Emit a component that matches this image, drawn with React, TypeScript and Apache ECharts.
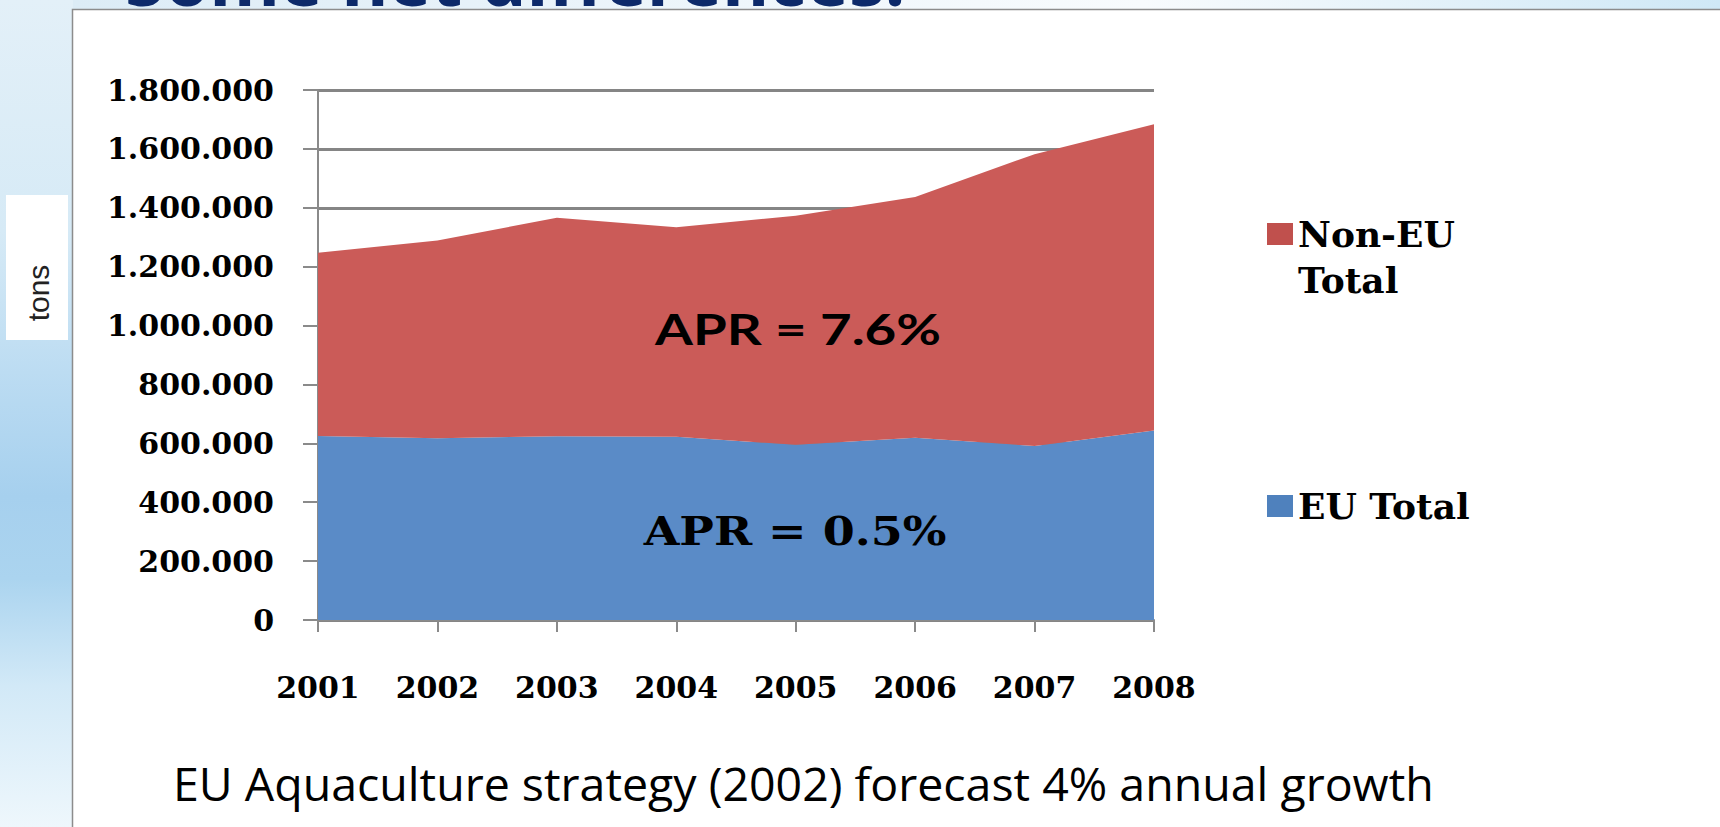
import React, { useEffect, useRef } from 'react';
import * as echarts from 'echarts';

const years = ['2001', '2002', '2003', '2004', '2005', '2006', '2007', '2008'];
const euTotal = [625000, 617000, 624000, 622000, 595000, 619000, 591000, 644000];
const nonEuTotal = [622000, 672000, 742000, 712000, 778000, 818000, 991000, 1040000];
const yMin = 0;
const yMax = 1800000;
const yInterval = 200000;
const seriesNames = ['EU Total', 'Non-EU Total'];
const legendLabels = ['EU Total', '\u00a0\nNon-EU\nTotal'];
const aprLabels = ['APR = 7.6%', 'APR = 0.5%'];
const titleText = 'Some net differences:';
const captionText = 'EU Aquaculture strategy (2002) forecast 4% annual growth';
const yAxisName = 'tons';

const fmt = (v: number) => (v === 0 ? '0' : String(v).replace(/\B(?=(\d{3})+(?!\d))/g, '.'));

const serifBold = { fontFamily: 'DejaVu Serif', fontWeight: 'bold' as const };

export default function App() {
  const ref = useRef<HTMLDivElement>(null);
  useEffect(() => {
    if (!ref.current) return;
    const chart = echarts.init(ref.current, undefined, { renderer: 'svg' });
    const option: any = {
      animation: false,
      backgroundColor: '#ffffff',
      grid: { left: 318, right: 566, top: 90, bottom: 207, outerBoundsMode: 'none' },
      xAxis: {
        type: 'category',
        data: years,
        boundaryGap: false,
        axisLine: { show: true, lineStyle: { color: '#8a8a8a', width: 2 } },
        axisTick: { show: true, length: 12, lineStyle: { color: '#8a8a8a', width: 2 } },
        axisLabel: { ...serifBold, fontSize: 30, color: '#000', margin: 52 },
        splitLine: { show: false },
      },
      yAxis: {
        type: 'value',
        min: yMin,
        max: yMax,
        interval: yInterval,
        axisLine: { show: true, lineStyle: { color: '#8a8a8a', width: 2 } },
        axisTick: { show: true, length: 15, lineStyle: { color: '#8a8a8a', width: 2 } },
        axisLabel: { ...serifBold, fontSize: 30, color: '#000', margin: 44, formatter: fmt },
        splitLine: { show: true, lineStyle: { color: '#858585', width: 3 } },
      },
      legend: [
        {
          data: [{ name: seriesNames[1], itemStyle: { color: '#C0504D' } }],
          left: 1267,
          top: 165,
          padding: 0,
          icon: 'rect',
          itemWidth: 26,
          itemHeight: 22,
          selectedMode: false,
          formatter: () => legendLabels[1],
          textStyle: { ...serifBold, fontSize: 36, lineHeight: 46, color: '#000' },
        },
        {
          data: [{ name: seriesNames[0], itemStyle: { color: '#4F81BD' } }],
          left: 1267,
          top: 483,
          padding: 0,
          icon: 'rect',
          itemWidth: 26,
          itemHeight: 22,
          selectedMode: false,
          formatter: () => legendLabels[0],
          textStyle: { ...serifBold, fontSize: 36, lineHeight: 46, color: '#000' },
        },
      ],
      series: [
        {
          name: seriesNames[0],
          type: 'line',
          stack: 'total',
          data: euTotal,
          symbol: 'none',
          lineStyle: { width: 0, color: '#5A8BC7' },
          itemStyle: { color: '#5A8BC7' },
          areaStyle: { color: '#5A8BC7', opacity: 1 },
          z: 3,
        },
        {
          name: seriesNames[1],
          type: 'line',
          stack: 'total',
          data: nonEuTotal,
          symbol: 'none',
          lineStyle: { width: 0, color: '#CB5B58' },
          itemStyle: { color: '#CB5B58' },
          areaStyle: { color: '#CB5B58', opacity: 1 },
          z: 3,
        },
      ],
      graphic: [
        {
          type: 'rect',
          z: -20,
          shape: { x: 0, y: 0, width: 73, height: 827 },
          style: {
            fill: {
              type: 'linear', x: 0, y: 0, x2: 0, y2: 1,
              colorStops: [
                { offset: 0, color: '#e3f0f8' },
                { offset: 0.28, color: '#d6eaf6' },
                { offset: 0.45, color: '#bcdcf2' },
                { offset: 0.6, color: '#a6d0ee' },
                { offset: 0.7, color: '#abd4ef' },
                { offset: 0.83, color: '#d2e9f7' },
                { offset: 1, color: '#eef7fc' },
              ],
            },
          },
        },
        {
          type: 'rect',
          z: -20,
          shape: { x: 73, y: 0, width: 1647, height: 10 },
          style: {
            fill: {
              type: 'linear', x: 0, y: 0, x2: 1, y2: 0,
              colorStops: [
                { offset: 0, color: '#dcecf6' },
                { offset: 0.4, color: '#eef6fb' },
                { offset: 0.65, color: '#f8fbfd' },
                { offset: 1, color: '#cfe8f6' },
              ],
            },
          },
        },
        {
          type: 'rect',
          z: -10,
          shape: { x: 72.5, y: 9.5, width: 1660, height: 830 },
          style: { fill: '#ffffff', stroke: '#8c8c8c', lineWidth: 1.5 },
        },
        {
          type: 'rect',
          z: 10,
          shape: { x: 6, y: 195, width: 62, height: 145 },
          style: { fill: '#ffffff' },
        },
        {
          type: 'text',
          z: 11,
          x: 38,
          y: 293,
          rotation: Math.PI / 2,
          style: {
            text: yAxisName, x: 0, y: 0, fill: '#222',
            fontFamily: 'Liberation Sans', fontSize: 30,
            align: 'center', verticalAlign: 'middle', textAlign: 'center', textVerticalAlign: 'middle',
          },
        },
        {
          type: 'text',
          z: 11,
          x: 125,
          y: -22,
          style: {
            text: titleText, x: 0, y: 0, fill: '#0d2a6a',
            fontFamily: 'Open Sans', fontWeight: 'bold', fontSize: 72,
            align: 'left', verticalAlign: 'middle', textAlign: 'left', textVerticalAlign: 'middle',
          },
        },
        {
          type: 'text',
          z: 11,
          x: 173,
          y: 783,
          style: {
            text: captionText, x: 0, y: 0, fill: '#000',
            fontFamily: 'Open Sans', fontSize: 46.5,
            align: 'left', verticalAlign: 'middle', textAlign: 'left', textVerticalAlign: 'middle',
          },
        },
        {
          type: 'text',
          z: 50,
          x: 798,
          y: 329,
          scaleX: 1.3,
          style: {
            text: aprLabels[0], x: 0, y: 0, fill: '#000',
            fontFamily: 'Lato', fontWeight: 'bold', fontSize: 42,
            align: 'center', verticalAlign: 'middle', textAlign: 'center', textVerticalAlign: 'middle',
          },
        },
        {
          type: 'text',
          z: 50,
          x: 795,
          y: 531,
          scaleX: 1.15,
          style: {
            text: aprLabels[1], x: 0, y: 0, fill: '#000',
            fontFamily: 'DejaVu Serif', fontWeight: 'bold', fontSize: 40,
            align: 'center', verticalAlign: 'middle', textAlign: 'center', textVerticalAlign: 'middle',
          },
        },
      ],
    };
    chart.setOption(option);
    return () => chart.dispose();
  }, []);
  return (
    <div
      ref={ref}
      style={{ position: 'fixed', left: 0, top: 0, width: 1720, height: 827 }}
    />
  );
}
